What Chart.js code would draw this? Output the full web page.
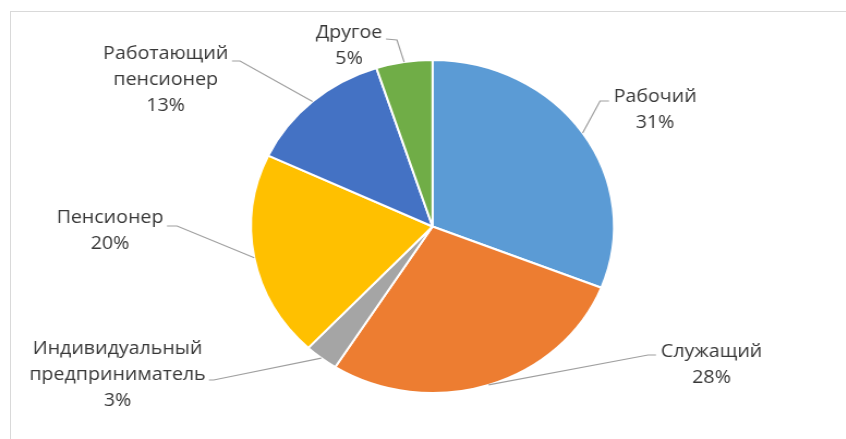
<!DOCTYPE html>
<html>
<head>
<meta charset="utf-8">
<title>Социальный статус</title>
<script src="https://cdn.jsdelivr.net/npm/chart.js@4.4.0/dist/chart.umd.min.js"></script>
<style>
    html, body { margin: 0; padding: 0; background: #fff; overflow: hidden; }
    #frame {
        position: absolute; left: 10px; top: 11px; width: 846px; height: 439px;
        border-left: 1px solid #d9d9d9; border-top: 1px solid #d9d9d9;
    }
    /* the chart is drawn slightly stretched sideways */
    #wrap {
        position: absolute; left: 0; top: 0; width: 776px; height: 439px;
        transform: scaleX(1.09); transform-origin: 0 0;
    }
</style>
</head>
<body>
<div id="frame"></div>
<div id="wrap"><canvas id="statusChart" width="776" height="439"></canvas></div>
<script>
// Данные по социальному статусу
const categories = ['Рабочий', 'Служащий', ['Индивидуальный', 'предприниматель'], 'Пенсионер', ['Работающий', 'пенсионер'], 'Другое'];
const shares = [31, 28, 3, 20, 13, 5];
const sliceColors = ['#5b9bd5', '#ed7d31', '#a5a5a5', '#ffc000', '#4472c4', '#70ad47'];

// Положение подписей и выносок
const labelBoxes = [
    { x: 601, y: 97, elbow: [550.5, 101], end: [558.7, 101] },
    { x: 652.8, y: 352, elbow: [594.5, 355], end: [601.8, 355] },
    { x: 107.8, y: 349, elbow: [196, 380], end: [191.7, 380] },
    { x: 100.9, y: 218, elbow: [162.4, 226], end: [153.2, 226] },
    { x: 152, y: 54, elbow: [220.2, 61], end: [212.8, 61] },
    { x: 320.2, y: 33, elbow: [364.2, 40], end: [354.1, 39] }
];
const lineHeight = 26;

// Подписи с выносками, как в Excel
const sliceLabels = {
    id: 'sliceLabels',
    afterDatasetsDraw(chart) {
        const ctx = chart.ctx;
        const meta = chart.getDatasetMeta(0);
        ctx.save();
        meta.data.forEach((arc, i) => {
            const p = arc.getProps(['x', 'y', 'startAngle', 'endAngle', 'outerRadius'], true);
            const mid = (p.startAngle + p.endAngle) / 2;
            const box = labelBoxes[i];

            ctx.beginPath();
            ctx.moveTo(p.x + Math.cos(mid) * p.outerRadius, p.y + Math.sin(mid) * p.outerRadius);
            ctx.lineTo(box.elbow[0], box.elbow[1]);
            ctx.lineTo(box.end[0], box.end[1]);
            ctx.strokeStyle = '#9f9f9f';
            ctx.lineWidth = 1.2;
            ctx.stroke();

            const lines = [].concat(chart.data.labels[i], chart.data.datasets[0].data[i] + '%');
            ctx.fillStyle = '#383838';
            ctx.font = '18px "Open Sans"';
            ctx.textAlign = 'center';
            ctx.textBaseline = 'middle';
            lines.forEach((t, k) => ctx.fillText(t, box.x, box.y + k * lineHeight));
        });
        ctx.restore();
    }
};

const ctxStatus = document.getElementById('statusChart').getContext('2d');
new Chart(ctxStatus, {
    type: 'pie',
    data: {
        labels: categories,
        datasets: [{
            data: shares,
            backgroundColor: sliceColors,
            borderColor: '#ffffff',
            borderWidth: 2,
            hoverBorderWidth: 2,
            offset: 0,
            hoverOffset: 0
        }]
    },
    options: {
        responsive: false,
        animation: false,
        layout: { padding: { left: 229.3, right: 211.7, top: 59, bottom: 45 } },
        plugins: {
            legend: { display: false },
            tooltip: { enabled: false }
        }
    },
    plugins: [sliceLabels]
});
</script>
</body>
</html>
